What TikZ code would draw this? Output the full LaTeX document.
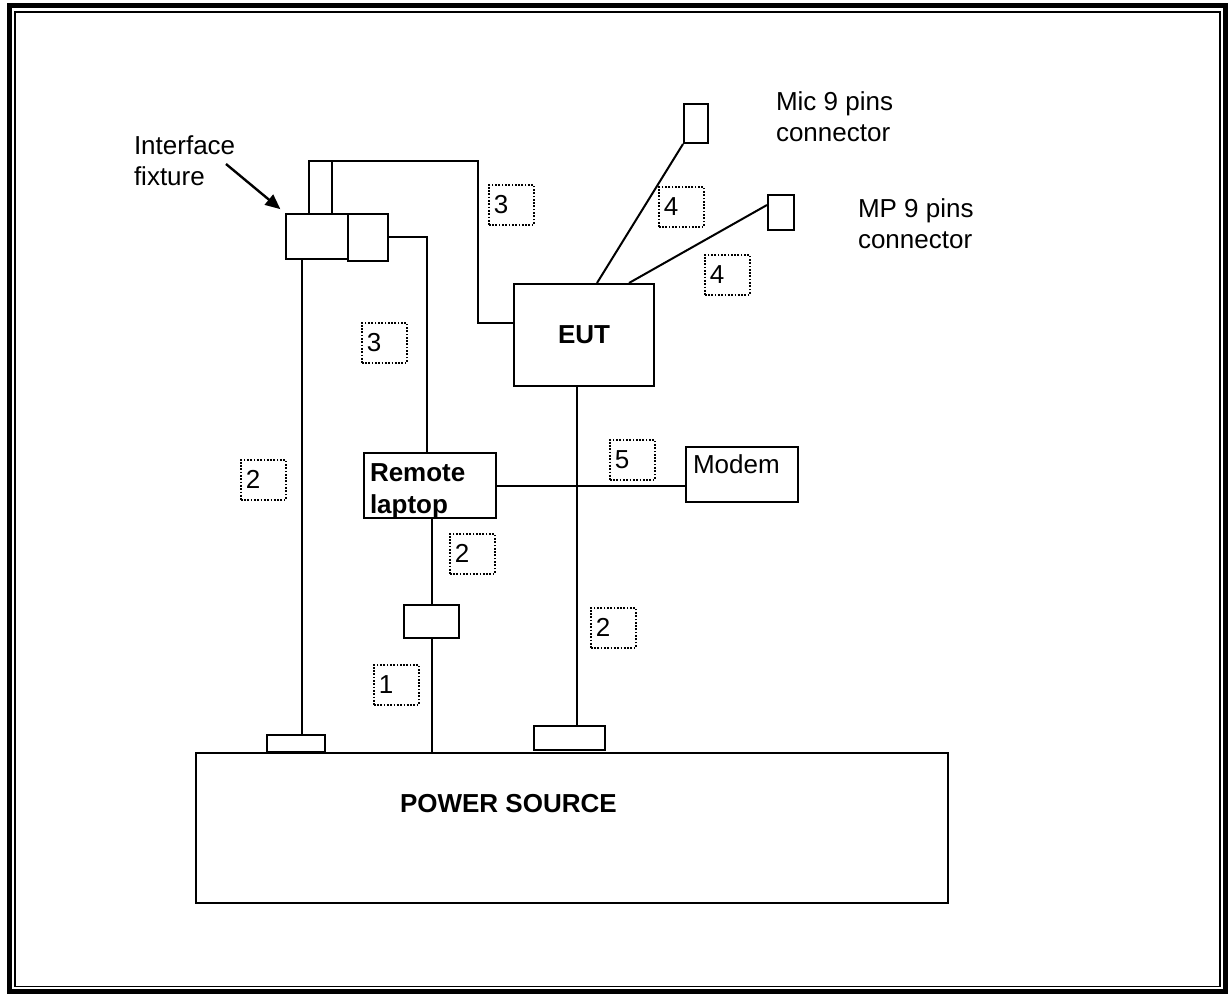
\documentclass[tikz,border=0pt]{standalone}
\usepackage{fontspec}
\setmainfont{Liberation Sans}
\usetikzlibrary{arrows.meta, positioning, calc}

\begin{document}
\begin{tikzpicture}[
      x=1pt, y=-1pt,
      line width=2pt,
      every node/.style={font=\fontsize{26}{31}\selectfont},
      box/.style={draw, anchor=north west, inner sep=0pt},
      numbox/.style={draw, line width=1.7pt, dash pattern=on 1.7pt off 1.6pt, anchor=north west,
        minimum width=45pt, minimum height=40pt, text width=35pt, inner xsep=5pt, inner ysep=0pt, align=left},
      note/.style={anchor=north west, inner sep=0pt, align=left}
    ]
      \useasboundingbox (0,0) rectangle (1228,995);
      \draw[line width=5pt] (9.5,6) rectangle (1225,991.5);
      \draw[line width=1.8pt] (15,12) rectangle (1220,986.5);

      \node[box, minimum width=62pt, minimum height=45pt] (fixA) at (285,213) {};
      \node[box, minimum width=40pt, minimum height=47pt] (fixB) at (347,213) {};
      \node[box, minimum width=140pt, minimum height=102pt, font=\fontsize{26}{31}\selectfont\bfseries] (eut) at (513,283) {EUT};
      \node[box, minimum width=24pt, minimum height=39pt] (mic) at (683,103) {};
      \node[box, minimum width=26pt, minimum height=35pt] (mp) at (767,194) {};
      \node[box, minimum width=132pt, minimum height=65pt] (laptop) at (363,452) {};
      \node[box, minimum width=112pt, minimum height=55pt] (modem) at (685,446) {};
      \node[box, minimum width=55pt, minimum height=33pt] (brick) at (403,604) {};
      \node[box, minimum width=58pt, minimum height=17pt] (padL) at (266,734) {};
      \node[box, minimum width=71pt, minimum height=24pt] (padR) at (533,725) {};
      \node[box, minimum width=752pt, minimum height=150pt] (power) at (195,752) {};

      \node[note] (fixtxt) at (133,135) {Interface\\fixture};
      \node[note] (mictxt) at (775,91) {Mic 9 pins\\connector};
      \node[note] (mptxt) at (857,198) {MP 9 pins\\connector};
      \node[note, font=\fontsize{26}{32}\selectfont\bfseries] (laptoptxt) at (369,463) {Remote\\laptop};
      \node[note] (modemtxt) at (692,454) {Modem};
      \node[note, font=\fontsize{26}{31}\selectfont\bfseries] (powertxt) at (399,793) {POWER SOURCE};

      \node[numbox] (n3a) at (488,184) {3};
      \node[numbox] (n3b) at (361,322) {3};
      \node[numbox] (n4a) at (658,186) {4};
      \node[numbox] (n4b) at (704,254) {4};
      \node[numbox] (n5) at (609,439) {5};
      \node[numbox] (n2a) at (240,459) {2};
      \node[numbox] (n2b) at (449,533) {2};
      \node[numbox] (n2c) at (590,607) {2};
      \node[numbox] (n1) at (373,664) {1};

      \coordinate (fixtail) at (226,164);
      \coordinate (bendA) at (478,161);
      \coordinate (bendB) at (478,323);
      \draw[line width=2.4pt, -{Triangle[length=15pt, width=13pt]}, shorten >=6pt] (fixtail) -- (fixA.north west);

      \draw ($(fixA.north west)+(24,0)$) |- (bendA) -- (bendB) -- (bendB -| eut.west);
      \draw ($(fixA.north west)+(47,0)$) -- ++(0,-52);
      \draw ($(fixB.north east)+(0,24)$) -| ($(laptop.north west)+(64,0)$);
      \draw ($(fixA.south west)+(17,0)$) coordinate (wA) -- (wA |- padL.north);
      \draw (mic.south west) -- ($(eut.north west)+(84,0)$);
      \draw ($(mp.north west)+(0,11)$) -- ($(eut.north west)+(116,0)$);
      \draw (laptop.east) -- (laptop.east -| modem.west);
      \draw ($(eut.south west)+(64,0)$) coordinate (wE) -- (wE |- padR.north);
      \draw (laptop.south -| brick.north) -- (brick.north);
      \draw (brick.south) -- (brick.south |- power.north);
    \end{tikzpicture}
\end{document}
